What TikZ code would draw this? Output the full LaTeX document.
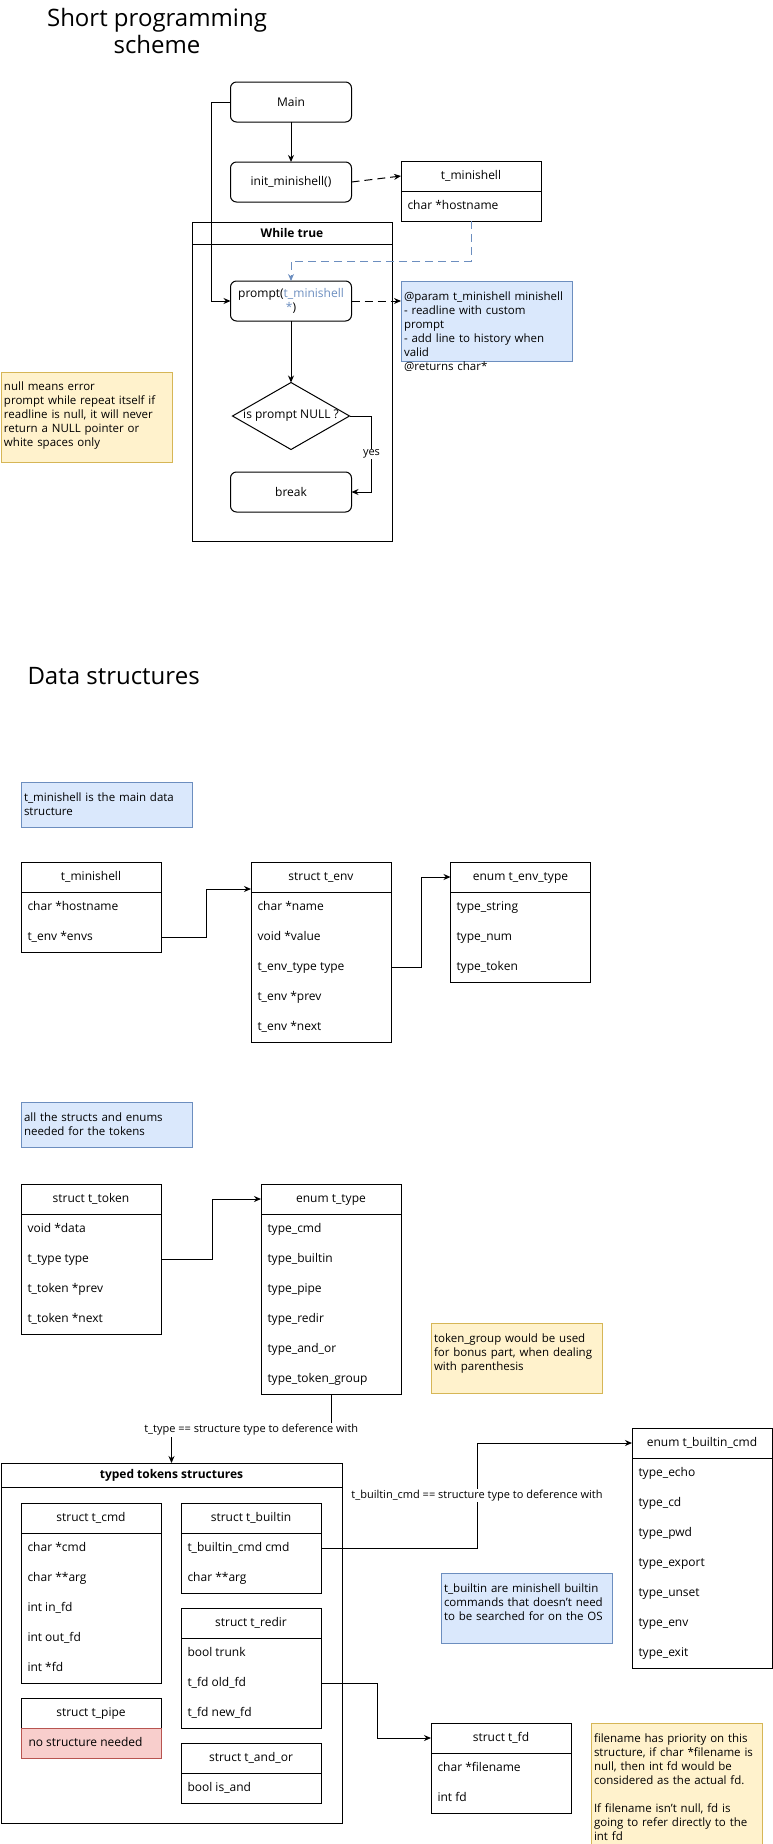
\documentclass[tikz,border=0pt]{standalone}
\usepackage{fontspec}
\setmainfont{Open Sans}
\usepackage{tikz}
\usetikzlibrary{arrows.meta,shapes.geometric,positioning}
\definecolor{bluefill}{HTML}{DAE8FC}
\definecolor{blueline}{HTML}{6C8EBF}
\definecolor{yellowfill}{HTML}{FFF2CC}
\definecolor{yellowline}{HTML}{D6B656}
\definecolor{redfill}{HTML}{F8CECC}
\definecolor{redline}{HTML}{B85450}

\begin{document}
\begin{tikzpicture}[x=1pt,y=-1pt,line width=1pt,>={Stealth[length=7pt,width=6pt]},
  font=\fontsize{12}{14}\selectfont,
  proc/.style={draw,rounded corners=6pt,minimum width=121pt,minimum height=40pt,align=center,inner sep=2pt,outer sep=0pt},
  hdr/.style={draw,minimum width=140pt,minimum height=30pt,inner sep=0pt,outer sep=0pt,text height=9pt,text depth=3pt},
  row/.style={anchor=west,inner sep=0pt,text height=9pt,text depth=3pt},
  note/.style={draw,anchor=north west,align=left,inner sep=3pt,outer sep=0pt,text width=165pt,text height=16pt,
    font=\fontsize{11.5}{14}\selectfont},
  bluenote/.style={note,fill=bluefill,draw=blueline},
  yellownote/.style={note,fill=yellowfill,draw=yellowline},
  lbl/.style={fill=white,inner sep=1pt,font=\fontsize{11}{13}\selectfont},
  dashline/.style={dash pattern=on 8pt off 5pt}]
\useasboundingbox (0,0) rectangle (773,1844);
\clip (0,0) rectangle (773,1844);

% Short programming scheme
\node[font=\fontsize{24}{27}\selectfont,align=center] (title1) at (157,31) {Short programming\\scheme};

\node[proc] (main) at (291,102) {Main};
\node[proc] (init) at (291,182) {init\_minishell()};

\node[hdr] (tmin) at (471,176) {t\_minishell};
\draw (tmin.south west) rectangle ++(140,30) coordinate (tminend);
\node[row] (tmin1) at (407,206) {char *hostname};

% loop
\node[draw,minimum width=200pt,minimum height=22pt,inner sep=0pt,outer sep=0pt,font=\fontsize{12}{14}\selectfont\bfseries] (loop) at (292,233) {While true};
\draw (loop.south west) rectangle ++(200,297);
\node[proc] (prompt) at (291,301) {prompt(\textcolor{blueline}{t\_minishell}\\\textcolor{blueline}{*})};
\node[draw,diamond,minimum width=117pt,minimum height=67pt,inner sep=0pt,outer sep=0pt,
  label=center:{is prompt NULL ?}] (isnull) at (291,416) {};
\node[proc] (brk) at (291,492) {break};

\node[bluenote,text depth=58pt] (promptnote) at (401,281) {@param t\_minishell minishell\\- readline with custom\\prompt\\- add line to history when\\valid\\@returns char*};
\node[yellownote,text height=15pt,text depth=69pt] (nullnote) at (1,372) {null means error\\prompt while repeat itself if\\readline is null, it will never\\return a NULL pointer or\\white spaces only};

\draw[->] (main) -- (init);
\draw[->] (main.west) -- ++(-19,0) |- (prompt.west);
\draw[->,dashline] (init.east) -- (tmin.west);
\draw[->,blueline,dashline] (tmin.south |- tminend) -- ++(0,40) -| (prompt.north);
\draw[->,dashline] (prompt.east) -- (promptnote.west |- prompt.east);
\draw[->] (prompt) -- (isnull);
\draw[->] (isnull.east) -- ++(22,0) |- node[lbl,pos=0.25] (yeslbl) {yes} (brk.east);

% Data structures
\node[font=\fontsize{24}{29}\selectfont,anchor=west,inner sep=0pt] (title2) at (27,676) {Data structures};
\node[bluenote,text depth=23pt] (mainnote) at (21,782) {t\_minishell is the main data\\structure};

\node[hdr] (tmin2) at (91,877) {t\_minishell};
\draw (tmin2.south west) rectangle ++(140,60);
\foreach \f [count=\i] in {char *hostname,t\_env *envs}
  \node[row] (tmin2\i) at (27,877+30*\i) {\f};

\node[hdr] (tenv) at (321,877) {struct t\_env};
\draw (tenv.south west) rectangle ++(140,150);
\foreach \f [count=\i] in {char *name,void *value,t\_env\_type type,t\_env *prev,t\_env *next}
  \node[row] (tenv\i) at (257,877+30*\i) {\f};

\node[hdr] (tenvtype) at (520.5,877) {enum t\_env\_type};
\draw (tenvtype.south west) rectangle ++(140,90);
\foreach \f [count=\i] in {type\_string,type\_num,type\_token}
  \node[row] (tenvtype\i) at (456,877+30*\i) {\f};

\draw[->] (tmin2.east |- tmin22) -- ++(45,0) |- ([yshift=-12pt]tenv.west);
\draw[->] (tenv.east |- tenv3) -- ++(30,0) |- (tenvtype.west);

% tokens
\node[bluenote,text depth=23pt] (tokennote) at (21,1102) {all the structs and enums\\needed for the tokens};

\node[hdr] (ttoken) at (91,1199) {struct t\_token};
\draw (ttoken.south west) rectangle ++(140,120);
\foreach \f [count=\i] in {void *data,t\_type type,t\_token *prev,t\_token *next}
  \node[row] (ttoken\i) at (27,1199+30*\i) {\f};

\node[hdr] (ttype) at (331,1199) {enum t\_type};
\draw (ttype.south west) rectangle ++(140,180) coordinate (ttypeend);
\foreach \f [count=\i] in {type\_cmd,type\_builtin,type\_pipe,type\_redir,type\_and\_or,type\_token\_group}
  \node[row] (ttype\i) at (267,1199+30*\i) {\f};

\node[yellownote,text depth=48pt] (groupnote) at (431,1323) {token\_group would be used\\for bonus part, when dealing\\with parenthesis};

\draw[->] (ttoken.east |- ttoken2) -- ++(51,0) |- (ttype.west);

% typed tokens structures
\node[draw,minimum width=341pt,minimum height=24pt,inner sep=0pt,outer sep=0pt,font=\fontsize{12}{14}\selectfont\bfseries] (typed) at (171.5,1475) {typed tokens structures};
\draw (typed.south west) rectangle ++(341,336);

\node[hdr] (tcmd) at (91,1518) {struct t\_cmd};
\draw (tcmd.south west) rectangle ++(140,150);
\foreach \f [count=\i] in {char *cmd,char **arg,int in\_fd,int out\_fd,int *fd}
  \node[row] (tcmd\i) at (27,1518+30*\i) {\f};

\node[hdr] (tpipe) at (91,1713) {struct t\_pipe};
\draw[fill=redfill,draw=redline] (tpipe.south west) rectangle ++(140,30);
\node[row] (tpipe1) at (28,1743) {no structure needed};

\node[hdr] (tbuiltin) at (251,1518) {struct t\_builtin};
\draw (tbuiltin.south west) rectangle ++(140,60);
\foreach \f [count=\i] in {t\_builtin\_cmd cmd,char **arg}
  \node[row] (tbuiltin\i) at (187,1518+30*\i) {\f};

\node[hdr] (tredir) at (251,1623) {struct t\_redir};
\draw (tredir.south west) rectangle ++(140,90);
\foreach \f [count=\i] in {bool trunk,t\_fd old\_fd,t\_fd new\_fd}
  \node[row] (tredir\i) at (187,1623+30*\i) {\f};

\node[hdr] (tandor) at (251,1758) {struct t\_and\_or};
\draw (tandor.south west) rectangle ++(140,30);
\node[row] (tandor1) at (187,1788) {bool is\_and};

\draw[->] (ttype.south |- ttypeend) -- ++(0,36) -| node[lbl,pos=0.25] (ttypelbl) {t\_type == structure type to deference with} (typed.north);

% builtins
\node[hdr] (tbuiltincmd) at (702,1443) {enum t\_builtin\_cmd};
\draw (tbuiltincmd.south west) rectangle ++(140,210);
\foreach \f [count=\i] in {type\_echo,type\_cd,type\_pwd,type\_export,type\_unset,type\_env,type\_exit}
  \node[row] (tbuiltincmd\i) at (638,1443+30*\i) {\f};

\node[bluenote,text depth=48pt] (builtinnote) at (441,1573) {t\_builtin are minishell builtin\\commands that doesn't need\\to be searched for on the OS};

\draw[->] (tbuiltin.east |- tbuiltin1) -- ++(156,0) |- node[lbl,pos=0.25] (tbuiltinlbl) {t\_builtin\_cmd == structure type to deference with} (tbuiltincmd.west);

% file descriptors
\node[hdr] (tfd) at (501,1738) {struct t\_fd};
\draw (tfd.south west) rectangle ++(140,60);
\foreach \f [count=\i] in {char *filename,int fd}
  \node[row] (tfd\i) at (437,1738+30*\i) {\f};

\node[yellownote,text depth=128pt] (fdnote) at (591,1723) {filename has priority on this\\structure, if char *filename is\\null, then int fd would be\\considered as the actual fd.\\[14pt]If filename isn't null, fd is\\going to refer directly to the\\int fd};

\draw[->] (tredir.east |- tredir2) -- ++(56,0) |- (tfd.west);
\end{tikzpicture}
\end{document}
